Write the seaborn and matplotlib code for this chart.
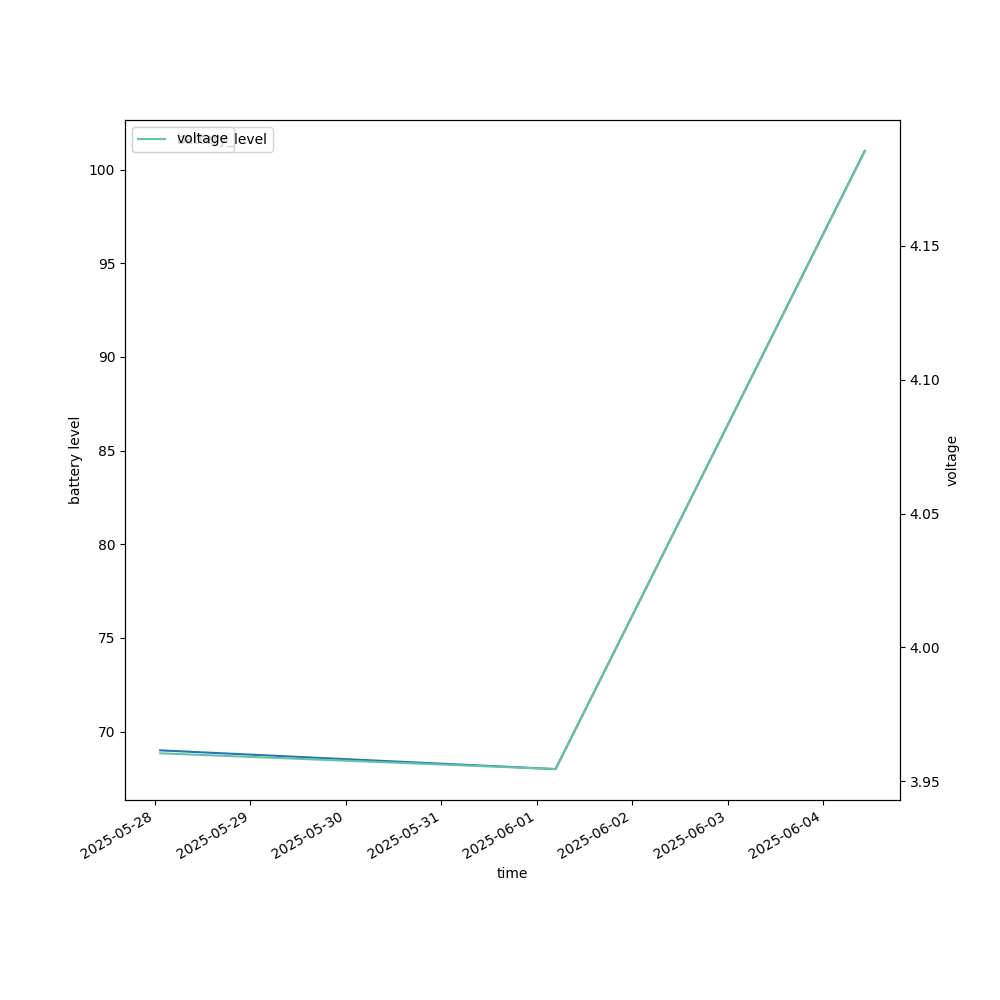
import pandas as pd
import matplotlib
matplotlib.use("Agg")
import matplotlib.pyplot as plt
import seaborn as sns

times = ["2025-05-28 01:20", "2025-06-01 04:45", "2025-06-04 10:30"]
battery_level = [69, 68, 101]
voltage = [3.9604, 3.9545, 4.1855]

df = pd.DataFrame({"time": pd.to_datetime(times),
                   "battery_level": battery_level,
                   "voltage": voltage})

fig, ax = plt.subplots(figsize=(10, 10), dpi=100)
sns.lineplot(data=df, x="time", y="battery_level", color="#1f77b4",
             label="battery_level", ax=ax)
ax.set_ylabel("battery level")
ax.legend(loc="upper left")

ax2 = ax.twinx()
sns.lineplot(data=df, x="time", y="voltage", color="#66c2a5",
             label="voltage", ax=ax2)
ax2.set_ylabel("voltage")
ax2.legend(loc="upper left")

fig.autofmt_xdate()
fig.savefig("out.png")
